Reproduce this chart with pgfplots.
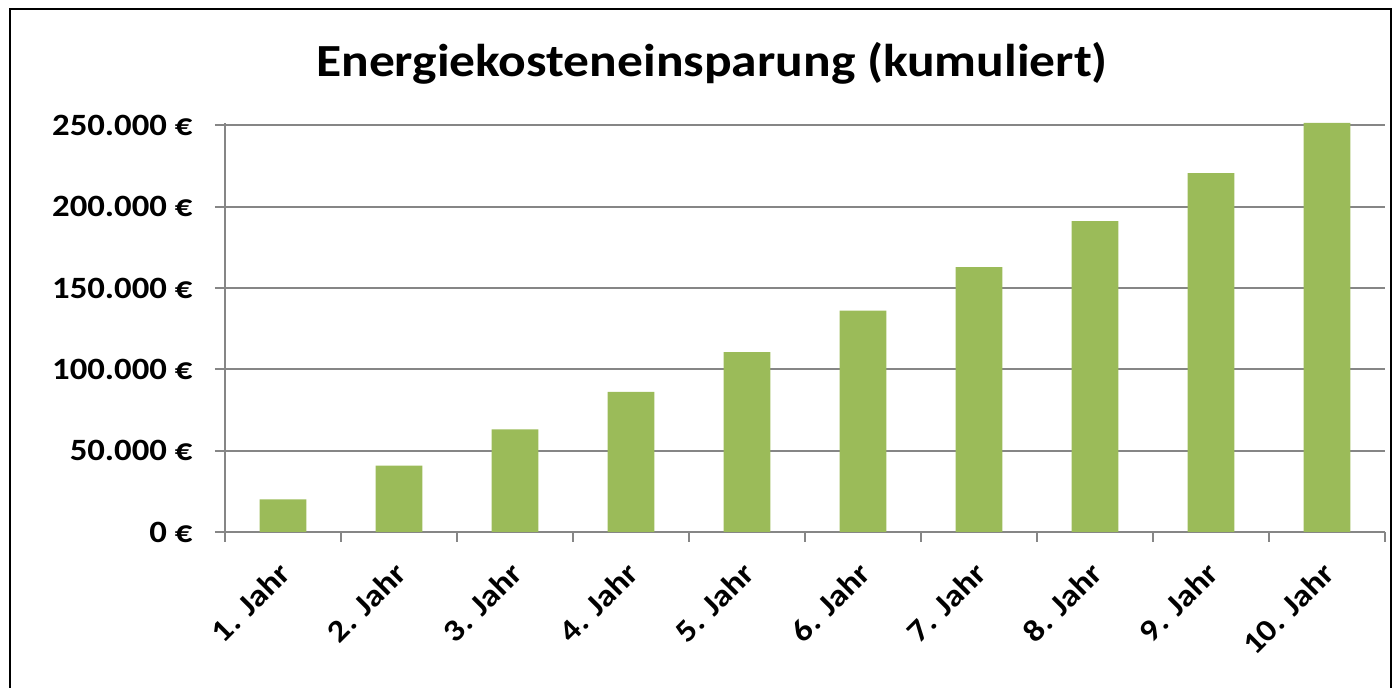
\documentclass[border=0pt]{standalone}
\usepackage{pgfplots}
\pgfplotsset{compat=1.18}
\usepackage{fontspec}
\setmainfont{Carlito}[FakeStretch=1.12]
\definecolor{bargreen}{HTML}{9BBB59}
\definecolor{gridgray}{HTML}{868686}
\begin{document}
\begin{tikzpicture}
\useasboundingbox (0pt,0pt) rectangle (1393pt,688pt);
\draw[black, line width=2.5pt] (10pt,-20pt) -- (10pt,679pt) -- (1391pt,679pt) -- (1391pt,-20pt);
\node[anchor=base, font=\fontsize{46}{50}\selectfont\bfseries] at (712pt,611pt) {Energiekosteneinsparung (kumuliert)};
\begin{axis}[
  at={(225pt,156pt)}, anchor=south west,
  scale only axis, width=1160pt, height=409pt,
  xmin=0.5, xmax=10.5, ymin=0, ymax=251500,
  scaled y ticks=false,
  axis x line=bottom, axis y line=left,
  axis line style={gridgray, line width=2pt, -},
  xtick={1,...,10},
  xticklabels={1. Jahr,2. Jahr,3. Jahr,4. Jahr,5. Jahr,6. Jahr,7. Jahr,8. Jahr,9. Jahr,10. Jahr},
  minor xtick={0.5,1.5,...,10.5},
  every major x tick/.append style={draw=none},
  every minor x tick/.append style={gridgray, line width=2pt},
  minor tick length=10pt,
  major tick length=10pt,
  tick align=outside,
  ytick={0,50000,100000,150000,200000,250000},
  yticklabels={0 €,50.000 €,100.000 €,150.000 €,200.000 €,250.000 €},
  ytick style={gridgray, line width=2pt},
  ymajorgrids, major grid style={gridgray, line width=2pt},
  tick label style={font=\fontsize{31}{36}\selectfont\bfseries},
  yticklabel style={anchor=east, xshift=-19pt},
  xticklabel style={xshift=-6pt, yshift=-18pt, rotate=45, anchor=north east, inner sep=0pt},
  clip=false,
]
\addplot[ybar, bar width=0.405, fill=bargreen, draw=none] coordinates {
(1,20000) (2,40800) (3,63100) (4,86100) (5,110600) (6,136100) (7,162900) (8,191200) (9,220600) (10,251500)
};
\end{axis}
\end{tikzpicture}
\end{document}
